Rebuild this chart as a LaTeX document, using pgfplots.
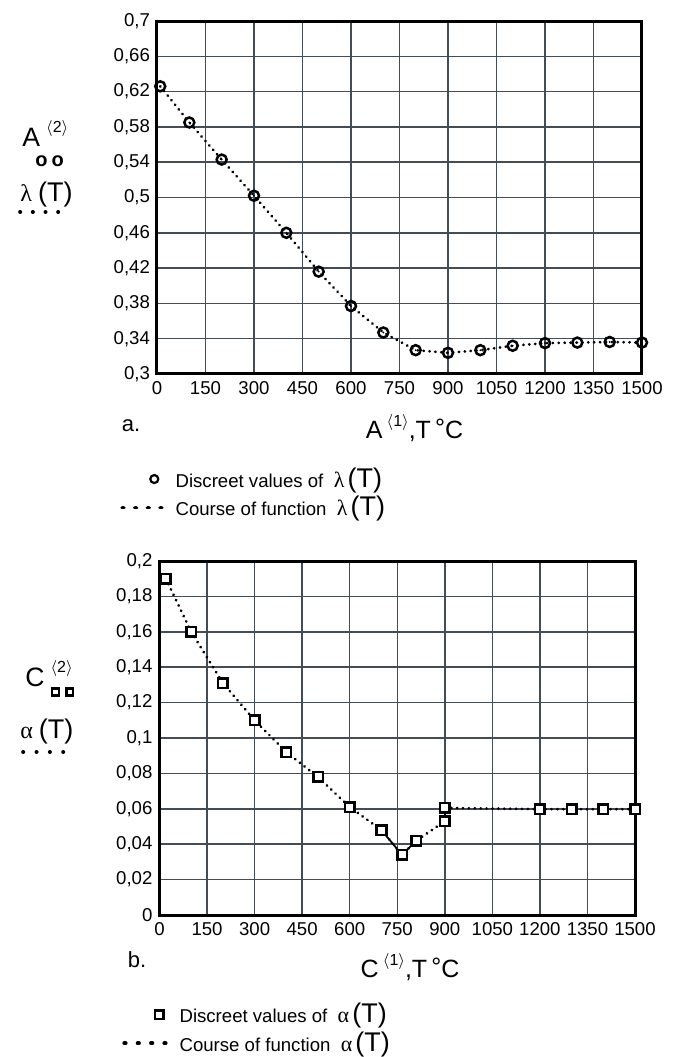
\documentclass[border=0pt]{standalone}
\usepackage{pgfplots}
\pgfplotsset{compat=1.18}
\usepackage{fontspec}
\setmainfont{Liberation Sans}
\newfontfamily\grk{Liberation Serif}
\definecolor{gridc}{RGB}{68,76,86}

\pgfdeclareplotmark{odot}{%
  \pgfpathcircle{\pgfpointorigin}{\pgfplotmarksize}\pgfusepathqstroke
  \pgfpathcircle{\pgfpointorigin}{0.5pt}\pgfusepathqfill}
\pgfdeclareplotmark{sdot}{%
  \pgfpathrectangle{\pgfqpoint{-\pgfplotmarksize}{-\pgfplotmarksize}}{\pgfqpoint{2\pgfplotmarksize}{2\pgfplotmarksize}}\pgfusepathqfillstroke
  \pgfpathcircle{\pgfpointorigin}{0.5pt}\pgfusepathqfill}

\newcommand{\BT}{{\fontsize{13.5}{14}\selectfont(T)}}

\tikzset{
  dotline/.style={black, line width=1.4pt, line cap=round, dash pattern=on 0.15pt off 2.8pt},
  legdots/.style={black, line width=1.8pt, line cap=round, dash pattern=on 0.2pt off #1},
}

\pgfplotsset{
  mystyle/.style={
    scale only axis,
    axis line style={line width=1.5pt},
    grid=major,
    grid style={gridc, line width=0.75pt},
    major tick length=0pt,
    tick label style={font=\fontsize{9.3}{11}\selectfont},
    /pgf/number format/assume math mode=true,
    /pgf/number format/fixed,
    /pgf/number format/precision=2,
    /pgf/number format/use comma,
    /pgf/number format/1000 sep={},
    scaled ticks=false,
    xmin=0, xmax=1500,
    xtick={0,150,300,450,600,750,900,1050,1200,1350,1500},
    xlabel style={font=\fontsize{12.5}{14}\selectfont, anchor=center},
    legend cell align=left,
    legend style={draw=none, fill=none, font=\fontsize{9.3}{11}\selectfont,
      row sep=-1pt, column sep=4pt, inner sep=0pt},
  },
}

\begin{document}
\begin{tikzpicture}
\path[use as bounding box] (0,0) rectangle (340.5pt,528.5pt);

% ---------------- chart a ----------------
\begin{axis}[mystyle,
  at={(78.5pt,341.5pt)}, anchor=south west,
  width=242.5pt, height=176.5pt,
  ymin=0.3, ymax=0.7,
  ytick={0.3,0.34,0.38,0.42,0.46,0.5,0.54,0.58,0.62,0.66,0.7},
  xlabel={A\,\raisebox{0.85ex}{\fontsize{8}{9}\selectfont$\langle$1$\rangle$},T\,\raisebox{0.1ex}{\textdegree}C},
  xlabel style={at={(axis description cs:0.531,-0.153)}},
  legend style={at={(axis description cs:-0.0763,-0.338)}, anchor=west},
]
\addplot[dotline, forget plot] coordinates {
(10,0.626)(100,0.585)(200,0.543)(300,0.502)(400,0.460)(500,0.416)(600,0.377)(700,0.347)
(800,0.327)(900,0.324)(1000,0.327)(1100,0.332)(1200,0.335)(1300,0.3356)(1400,0.3363)(1500,0.3356)};
\addplot[only marks, mark=odot, mark size=2.5pt, mark options={line width=1.25pt, black}, forget plot] coordinates {
(10,0.626)(100,0.585)(200,0.543)(300,0.502)(400,0.460)(500,0.416)(600,0.377)(700,0.347)
(800,0.327)(900,0.324)(1000,0.327)(1100,0.332)(1200,0.335)(1300,0.3356)(1400,0.3363)(1500,0.3356)};
\addlegendimage{legend image code/.code={\path[draw=none,fill=none] (0pt,0pt) -- (19pt,0pt); \draw[black, line width=1.1pt] (16pt,0pt) circle (2pt);}}
\addlegendentry{Discreet values of\ \ {\fontsize{11}{12}\selectfont\grk λ}\,\BT}
\addlegendimage{legend image code/.code={\draw[black, line width=1.9pt, line cap=round, dash pattern=on 0.7pt off 5.63pt] (0pt,0pt) -- (19.7pt,0pt);}}
\addlegendentry{Course of function\ \ {\fontsize{11}{12}\selectfont\grk λ}\,\BT}
\end{axis}

% labels a
\node[anchor=base west, font=\fontsize{13.3}{15}\selectfont, inner sep=0pt] at (11pt,455pt)
  {A\hspace{3pt}\raisebox{1.05ex}{\fontsize{8}{9}\selectfont$\langle$2$\rangle$}};
\node[font=\bfseries\fontsize{10}{11}\selectfont, inner sep=0pt] at (24.75pt,448pt) {o\hspace{2pt}o};
\node[anchor=west, inner sep=0pt] at (10pt,431pt) {{\fontsize{12}{13}\selectfont\grk λ}\hspace{3pt}\BT};
\draw[legdots=6.13pt] (10pt,422.5pt) -- (29.3pt,422.5pt);
\node[font=\fontsize{11}{13}\selectfont] at (65.5pt,315.5pt) {a.};

% ---------------- chart b ----------------
\begin{axis}[mystyle,
  at={(79.75pt,71pt)}, anchor=south west,
  width=237.75pt, height=177pt,
  ymin=0, ymax=0.2,
  ytick={0,0.02,0.04,0.06,0.08,0.1,0.12,0.14,0.16,0.18,0.2},
  xlabel={C\,\raisebox{0.85ex}{\fontsize{8}{9}\selectfont$\langle$1$\rangle$},T\,\raisebox{0.1ex}{\textdegree}C},
  xlabel style={at={(axis description cs:0.527,-0.147)}},
  legend style={at={(axis description cs:-0.0789,-0.322)}, anchor=west},
]
\addplot[dotline, forget plot] coordinates {
(20,0.19)(100,0.16)(200,0.131)(300,0.11)(400,0.092)(500,0.078)(600,0.061)(700,0.048)
(765,0.034)(810,0.042)(900,0.053)(900,0.0605)(1200,0.0598)(1300,0.0598)(1400,0.0598)(1500,0.0598)};
\addplot[black, line width=0.9pt, forget plot] coordinates {(700,0.048)(765,0.034)(810,0.042)};
\addplot[black, line width=0.9pt, forget plot] coordinates {(900,0.053)(900,0.0605)};
\addplot[only marks, mark=sdot, mark size=2.4pt, mark options={line width=1.3pt, black, fill=white}, forget plot] coordinates {
(20,0.19)(100,0.16)(200,0.131)(300,0.11)(400,0.092)(500,0.078)(600,0.061)(700,0.048)
(765,0.034)(810,0.042)(900,0.053)(900,0.0605)(1200,0.0598)(1300,0.0598)(1400,0.0598)(1500,0.0598)};
\addlegendimage{legend image code/.code={\path[draw=none,fill=none] (0pt,0pt) -- (20pt,0pt); \draw[black, line width=1.1pt] (15.4pt,-2.1pt) rectangle (19.6pt,2.1pt);}}
\addlegendentry{Discreet values of\ \ {\fontsize{11}{12}\selectfont\grk α}\,\BT}
\addlegendimage{legend image code/.code={\draw[black, line width=1.9pt, line cap=round, dash pattern=on 0.7pt off 5.97pt] (0pt,0pt) -- (20.7pt,0pt);}}
\addlegendentry{Course of function\ \ {\fontsize{11}{12}\selectfont\grk α}\,\BT}
\end{axis}

% labels b
\node[anchor=base west, font=\fontsize{13.3}{15}\selectfont, inner sep=0pt] at (12.5pt,185pt)
  {C\hspace{3pt}\raisebox{1.05ex}{\fontsize{8}{9}\selectfont$\langle$2$\rangle$}};
\node[inner sep=0pt] at (31.25pt,182.5pt)
  {\setlength{\fboxsep}{1.1pt}\setlength{\fboxrule}{1.2pt}\fbox{}\hspace{2.6pt}\fbox{}};
\node[anchor=west, inner sep=0pt] at (10pt,162.5pt) {{\fontsize{12}{13}\selectfont\grk α}\hspace{3pt}\BT};
\draw[legdots=6.47pt] (11.5pt,152.5pt) -- (31.7pt,152.5pt);
\node[font=\fontsize{11}{13}\selectfont] at (68.5pt,48.5pt) {b.};
\end{tikzpicture}
\end{document}
